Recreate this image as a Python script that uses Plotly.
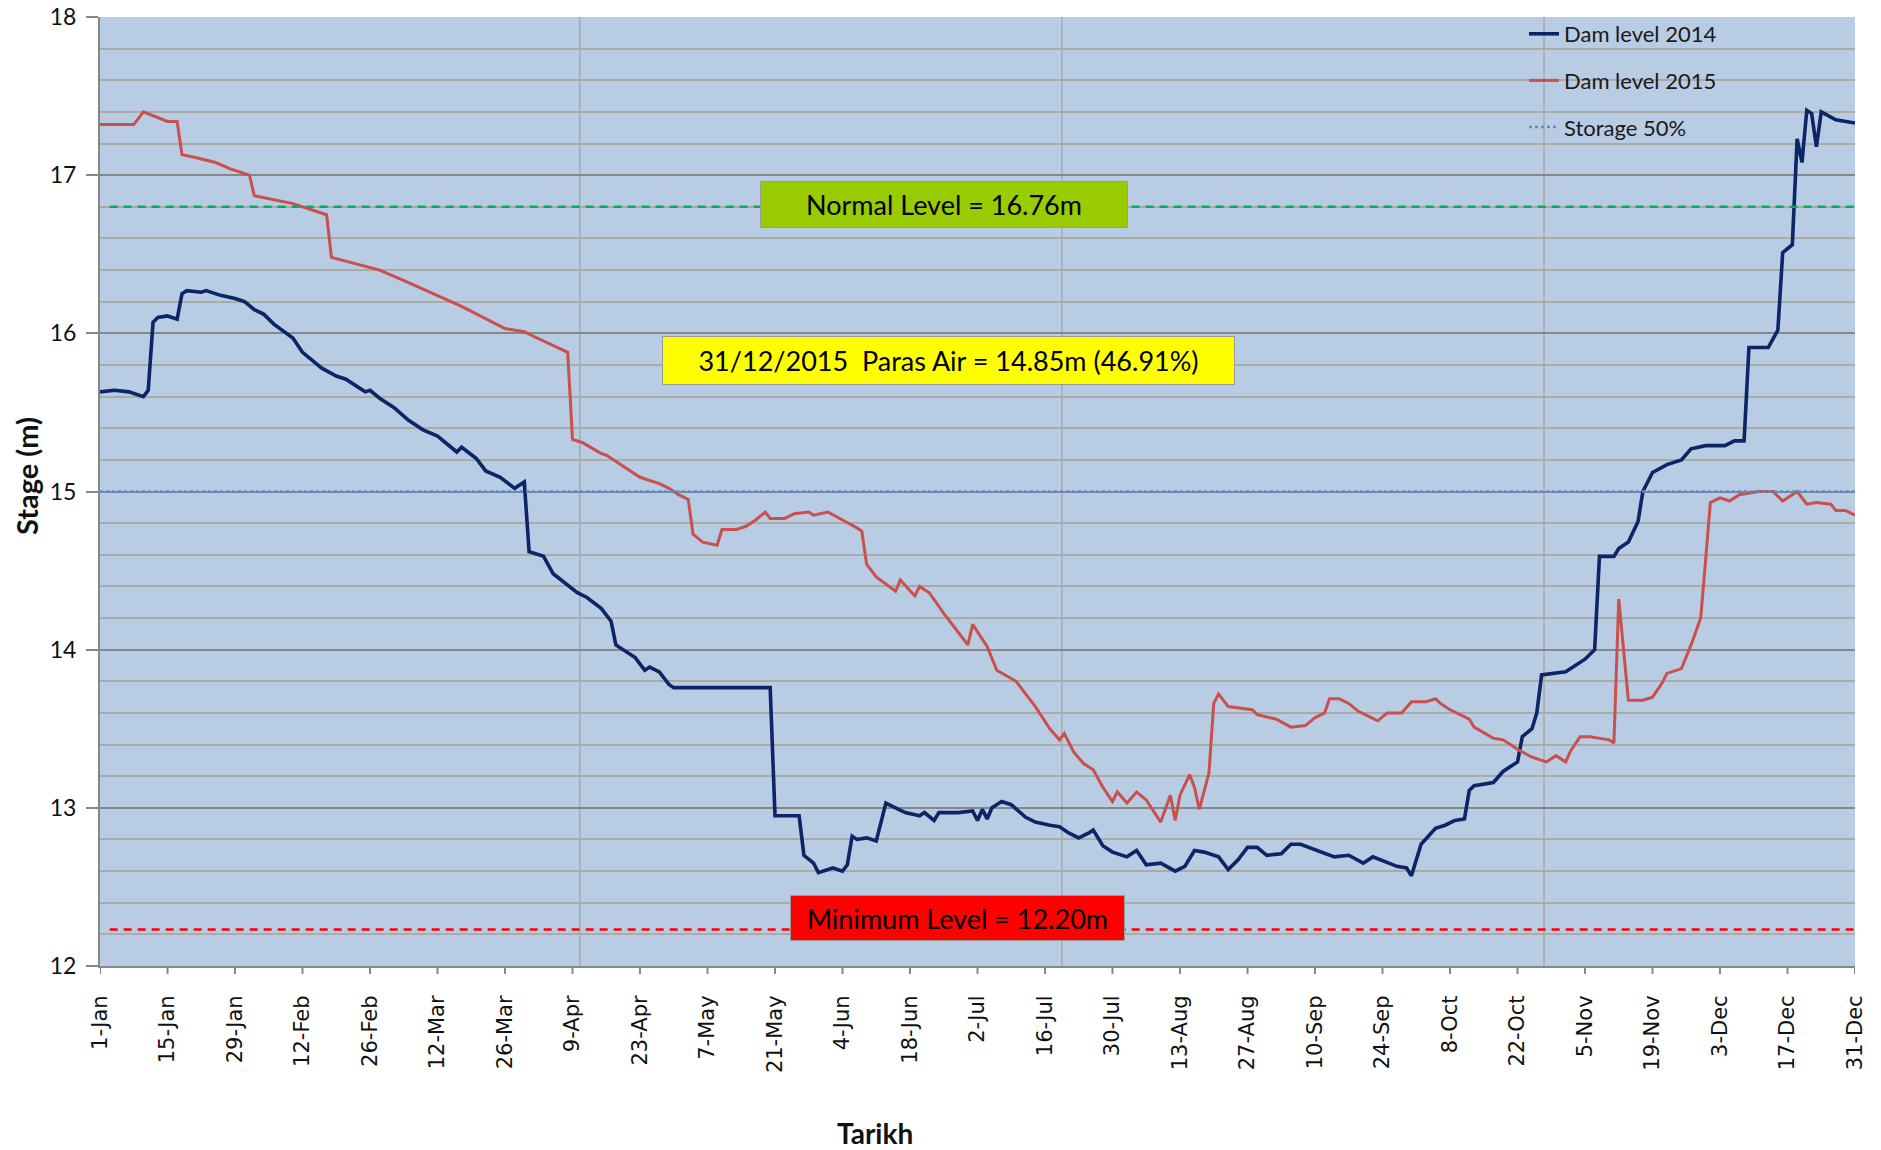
import pandas as pd
import plotly.graph_objects as go

YEAR_START = pd.Timestamp("2015-01-01")

# ---- Data (day offset from 1-Jan, stage in m) ----
days_2014 = [0, 3, 6, 9, 10, 11, 12, 14, 16, 17, 18, 21, 22, 25, 28, 30, 32, 34, 36, 40,
             42, 46, 49, 51, 55, 56, 58, 61, 64, 67, 70, 73, 74, 75, 78, 80, 83, 86, 88, 89,
             92, 94, 99, 101, 104, 106, 107, 111, 113, 114, 116, 118, 119, 139, 140, 145, 146, 148, 149, 152,
             154, 155, 156, 157, 159, 161, 163, 165, 167, 170, 171, 173, 174, 178, 181, 182, 183, 184, 185, 187,
             189, 192, 194, 197, 199, 201, 203, 205, 206, 208, 210, 213, 215, 217, 220, 223, 225, 227, 229, 232,
             234, 236, 238, 240, 242, 245, 247, 249, 256, 259, 262, 264, 269, 271, 272, 274, 277, 279, 281, 283,
             284, 285, 289, 291, 294, 295, 297, 298, 299, 304, 308, 310, 311, 314, 315, 317, 319, 320, 322, 325,
             328, 330, 333, 337, 339, 341, 342, 346, 348, 349, 351, 352, 353, 354, 355, 356, 357, 360, 364]
level_2014 = [15.63, 15.64, 15.63, 15.60, 15.64, 16.07, 16.10, 16.11, 16.09, 16.25, 16.27, 16.26, 16.27, 16.24, 16.22, 16.20, 16.15, 16.12, 16.06, 15.97,
              15.88, 15.78, 15.73, 15.71, 15.63, 15.64, 15.59, 15.53, 15.45, 15.39, 15.35, 15.27, 15.25, 15.28, 15.21, 15.13, 15.09, 15.02, 15.06, 14.62,
              14.59, 14.48, 14.36, 14.33, 14.26, 14.18, 14.03, 13.95, 13.87, 13.89, 13.86, 13.78, 13.76, 13.76, 12.95, 12.95, 12.70, 12.65, 12.59, 12.62,
              12.60, 12.64, 12.82, 12.80, 12.81, 12.79, 13.03, 13.00, 12.97, 12.95, 12.97, 12.92, 12.97, 12.97, 12.98, 12.92, 12.99, 12.93, 13.00, 13.04,
              13.02, 12.94, 12.91, 12.89, 12.88, 12.84, 12.81, 12.84, 12.86, 12.76, 12.72, 12.69, 12.73, 12.64, 12.65, 12.60, 12.63, 12.73, 12.72, 12.69,
              12.61, 12.67, 12.75, 12.75, 12.70, 12.71, 12.77, 12.77, 12.69, 12.70, 12.65, 12.69, 12.63, 12.62, 12.57, 12.77, 12.87, 12.89, 12.92, 12.93,
              13.11, 13.14, 13.16, 13.23, 13.29, 13.45, 13.50, 13.60, 13.84, 13.86, 13.94, 14.00, 14.59, 14.59, 14.64, 14.68, 14.81, 15.00, 15.12, 15.17,
              15.20, 15.27, 15.29, 15.29, 15.32, 15.32, 15.91, 15.91, 16.02, 16.51, 16.56, 17.23, 17.08, 17.41, 17.39, 17.18, 17.40, 17.35, 17.33]

days_2015 = [0, 7, 9, 14, 16, 17, 20, 24, 27, 31, 32, 35, 40, 44, 47, 48, 53, 58, 64, 69,
             75, 84, 88, 90, 95, 97, 98, 100, 104, 105, 112, 116, 118, 120, 122, 123, 125, 128, 129, 132,
             134, 136, 138, 139, 142, 144, 147, 148, 151, 153, 154, 157, 158, 159, 161, 165, 166, 169, 170, 172,
             175, 178, 180, 181, 184, 186, 190, 194, 197, 199, 200, 202, 204, 206, 208, 210, 211, 213, 215, 217,
             220, 222, 223, 224, 226, 227, 228, 230, 231, 232, 234, 239, 240, 244, 247, 250, 252, 254, 255, 257,
             259, 261, 263, 265, 267, 270, 272, 275, 277, 278, 280, 284, 285, 289, 291, 294, 297, 300, 302, 304,
             305, 307, 309, 313, 314, 315, 317, 320, 322, 324, 325, 327, 328, 330, 332, 333, 334, 336, 338, 340,
             344, 347, 349, 352, 354, 356, 359, 360, 362, 364]
level_2015 = [17.32, 17.32, 17.40, 17.34, 17.34, 17.13, 17.11, 17.08, 17.04, 17.00, 16.87, 16.85, 16.82, 16.78, 16.75, 16.48, 16.44, 16.40, 16.32, 16.25,
              16.17, 16.03, 16.01, 15.98, 15.91, 15.88, 15.33, 15.31, 15.24, 15.23, 15.09, 15.05, 15.02, 14.98, 14.95, 14.73, 14.68, 14.66, 14.76, 14.76,
              14.78, 14.82, 14.87, 14.83, 14.83, 14.86, 14.87, 14.85, 14.87, 14.84, 14.82, 14.77, 14.75, 14.54, 14.46, 14.37, 14.44, 14.34, 14.40, 14.36,
              14.23, 14.11, 14.03, 14.16, 14.02, 13.87, 13.80, 13.64, 13.50, 13.43, 13.47, 13.35, 13.28, 13.24, 13.13, 13.04, 13.10, 13.03, 13.10, 13.05,
              12.91, 13.08, 12.92, 13.08, 13.21, 13.13, 12.99, 13.22, 13.66, 13.72, 13.64, 13.62, 13.59, 13.56, 13.51, 13.52, 13.57, 13.60, 13.69, 13.69,
              13.66, 13.61, 13.58, 13.55, 13.60, 13.60, 13.67, 13.67, 13.69, 13.66, 13.62, 13.56, 13.51, 13.44, 13.43, 13.37, 13.32, 13.29, 13.33, 13.29,
              13.36, 13.45, 13.45, 13.43, 13.41, 14.32, 13.68, 13.68, 13.70, 13.79, 13.85, 13.87, 13.88, 14.03, 14.20, 14.56, 14.93, 14.96, 14.94, 14.98,
              15.00, 15.00, 14.94, 15.00, 14.92, 14.93, 14.92, 14.88, 14.88, 14.85]

storage_50 = 15.0
normal_level = 16.80
minimum_level = 12.23
ref_line_days = [2, 364]
year_days = [0, 364]

tick_days = list(range(0, 365, 14))
tick_labels = ["1-Jan", "15-Jan", "29-Jan", "12-Feb", "26-Feb", "12-Mar", "26-Mar", "9-Apr",
               "23-Apr", "7-May", "21-May", "4-Jun", "18-Jun", "2-Jul", "16-Jul", "30-Jul",
               "13-Aug", "27-Aug", "10-Sep", "24-Sep", "8-Oct", "22-Oct", "5-Nov", "19-Nov",
               "3-Dec", "17-Dec", "31-Dec"]
vgrid_days = [99.5, 199.5, 299.5]


def to_date(d):
    return YEAR_START + pd.Timedelta(days=d)


def to_dates(ds):
    return [to_date(d) for d in ds]


FONT = "Lato, 'Open Sans', sans-serif"
BG = "#B8CCE4"
MAJOR = "#878787"
MINOR = "#ABABA6"

# figure geometry (page body margin is removed by post_script)
L, R, T, B = 100, 26, 17, 184
W, H = 1881, 1150
pw, ph = W - L - R, H - T - B


def px(xp):
    return (xp - L) / pw


def py(yp):
    return 1 - (yp - T) / ph


fig = go.Figure()

fig.add_trace(go.Scatter(
    x=to_dates(days_2014), y=level_2014, mode="lines", name="Dam level 2014",
    line=dict(color="#0B2566", width=3.6), legendgroup="a"))
fig.add_trace(go.Scatter(
    x=to_dates(days_2015), y=level_2015, mode="lines", name="Dam level 2015",
    line=dict(color="#C9504C", width=3.0), legendgroup="b"))
fig.add_trace(go.Scatter(
    x=to_dates(year_days), y=[storage_50, storage_50], mode="lines", name="Storage 50%",
    line=dict(color="#5B8BC9", width=2.5, dash="dot"), legendgroup="c"))

shapes = []
for d in vgrid_days:
    shapes.append(dict(type="line", xref="x", yref="paper", x0=to_date(d), x1=to_date(d),
                       y0=0, y1=1, line=dict(color="#A9A9A6", width=1.5), layer="below"))
# visible short x tick marks (the axis' own ticks are transparent, to push labels away)
for d in tick_days:
    shapes.append(dict(type="line", xref="x", yref="paper", x0=to_date(d), x1=to_date(d),
                       y0=0, y1=-8 / ph, line=dict(color=MAJOR, width=2)))
shapes.append(dict(type="line", xref="x", yref="y", x0=to_date(ref_line_days[0]), x1=to_date(ref_line_days[1]),
                   y0=normal_level, y1=normal_level, line=dict(color="#00B050", width=2.5, dash="8px,6px")))
shapes.append(dict(type="line", xref="x", yref="y", x0=to_date(ref_line_days[0]), x1=to_date(ref_line_days[1]),
                   y0=minimum_level, y1=minimum_level, line=dict(color="#FF0000", width=2.5, dash="8px,6px")))

BOXFONT = dict(family=FONT, size=27, color="#000000")
annotations = [
    dict(x=to_date(175.1), y=16.815, xref="x", yref="y", text="Normal Level = 16.76m", showarrow=False,
         bgcolor="#99CC00", bordercolor="#9A9A9A", borderwidth=1, borderpad=0, width=366, height=45,
         font=BOXFONT),
    dict(x=to_date(175.9), y=15.826, xref="x", yref="y", text="31/12/2015  Paras Air = 14.85m (46.91%)",
         showarrow=False, bgcolor="#FFFF00", bordercolor="#9A9A9A", borderwidth=1, borderpad=0,
         width=571, height=47, font=BOXFONT),
    dict(x=to_date(177.9), y=12.305, xref="x", yref="y", text="Minimum Level = 12.20m", showarrow=False,
         bgcolor="#FF0000", bordercolor="#9A9A9A", borderwidth=1, borderpad=0, width=333, height=44,
         font=BOXFONT),
    dict(x=px(875), y=py(1133), xref="paper", yref="paper", xanchor="center", yanchor="middle",
         text="<b>Tarikh</b>", showarrow=False, font=dict(family=FONT, size=28, color="#111111")),
    dict(x=px(26), y=py(476), xref="paper", yref="paper", xanchor="center", yanchor="middle",
         text="<b>Stage (m)</b>", showarrow=False, textangle=-90,
         font=dict(family=FONT, size=29, color="#111111")),
]

fig.update_layout(
    width=W, height=H, autosize=False,
    margin=dict(l=L, r=R, t=T, b=B, pad=0),
    paper_bgcolor="white", plot_bgcolor=BG,
    font=dict(family=FONT, color="#111111"),
    shapes=shapes, annotations=annotations,
    showlegend=True,
    legend=dict(x=px(1524), y=py(13), xanchor="left", yanchor="top",
                bgcolor="rgba(0,0,0,0)", borderwidth=0, font=dict(family=FONT, size=22, color="#1a1a1a"),
                tracegroupgap=15),
)

fig.update_xaxes(
    type="date", range=[to_date(0), to_date(364)], automargin=False,
    tickmode="array", tickvals=to_dates(tick_days), ticktext=tick_labels, tickangle=-90,
    tickfont=dict(family="DejaVu Sans", size=21, color="#111111"),
    ticks="outside", ticklen=19, tickwidth=1, tickcolor="rgba(0,0,0,0)",
    showgrid=False, zeroline=False,
    showline=True, linecolor=MAJOR, linewidth=2, ticklabeloverflow="allow",
)
fig.update_yaxes(
    range=[12, 18], dtick=1, tick0=12, automargin=False,
    tickfont=dict(family=FONT, size=23, color="#111111"),
    ticks="outside", ticklen=12, tickwidth=2, tickcolor=MAJOR,
    showgrid=True, gridcolor=MAJOR, gridwidth=2,
    minor=dict(dtick=0.2, showgrid=True, gridcolor=MINOR, gridwidth=1.5, ticks=""),
    zeroline=False, showline=True, linecolor=MAJOR, linewidth=2, ticklabelstandoff=5,
    ticklabeloverflow="allow",
)

fig.write_html("out.html", config={"displayModeBar": False},
               post_script="document.body.style.margin='0px';")
